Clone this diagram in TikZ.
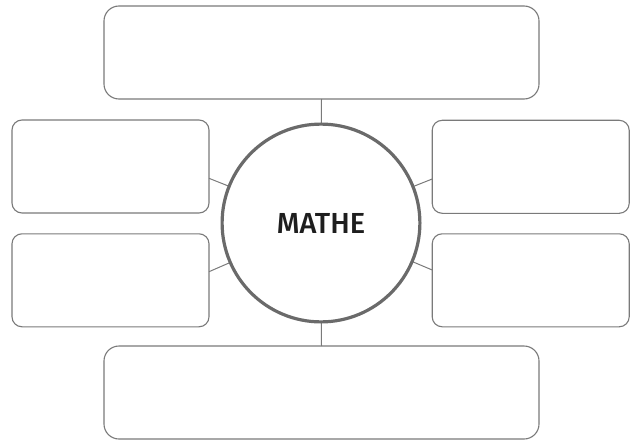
\documentclass[tikz,border=0pt]{standalone}
\usepackage{fontspec}
\newfontfamily\labelfont{Fira Sans}[UprightFont=* Medium]
\definecolor{boxgray}{HTML}{7A7A7A}
\definecolor{ringgray}{HTML}{6A6A6A}
\definecolor{txt}{HTML}{1E1E1E}
\begin{document}
\begin{tikzpicture}[x=1pt,y=-1pt,
  bigbox/.style={draw=boxgray,line width=1.1pt,rounded corners=15pt,minimum width=435pt,minimum height=93pt,inner sep=0pt,outer sep=0pt},
  smallbox/.style={draw=boxgray,line width=1.1pt,rounded corners=10pt,minimum width=197pt,minimum height=93pt,inner sep=0pt,outer sep=0pt},
  ring/.style={circle,draw=ringgray,line width=3.2pt,fill=white,minimum size=197.8pt,inner sep=0pt,outer sep=0pt,text=txt,font=\labelfont\fontsize{29}{29}\selectfont},
  link/.style={draw=boxgray,line width=1pt}]
\useasboundingbox (0,0) rectangle (634,441);
\node[bigbox] (top) at (321.5,52.5) {};
\node[bigbox] (bot) at (321.5,392.5) {};
\node[smallbox] (lt) at (110.5,166.5) {};
\node[smallbox] (lb) at (110.5,280.3) {};
\node[smallbox] (rt) at (530.7,166.8) {};
\node[smallbox] (rb) at (530.7,280.3) {};
\coordinate (c0) at (321,223);
\draw[link] (c0) -- (top.south);
\draw[link] (c0) -- (bot.north);
\draw[link] ([yshift=-11.8pt]lt.east) -- (c0);
\draw[link] ([yshift=8.6pt]lb.east) -- (c0);
\draw[link] ([yshift=-12.2pt]rt.west) -- (c0);
\draw[link] ([yshift=10.3pt]rb.west) -- (c0);
\node[ring] (c) at (c0) {MATHE};
\end{tikzpicture}
\end{document}
